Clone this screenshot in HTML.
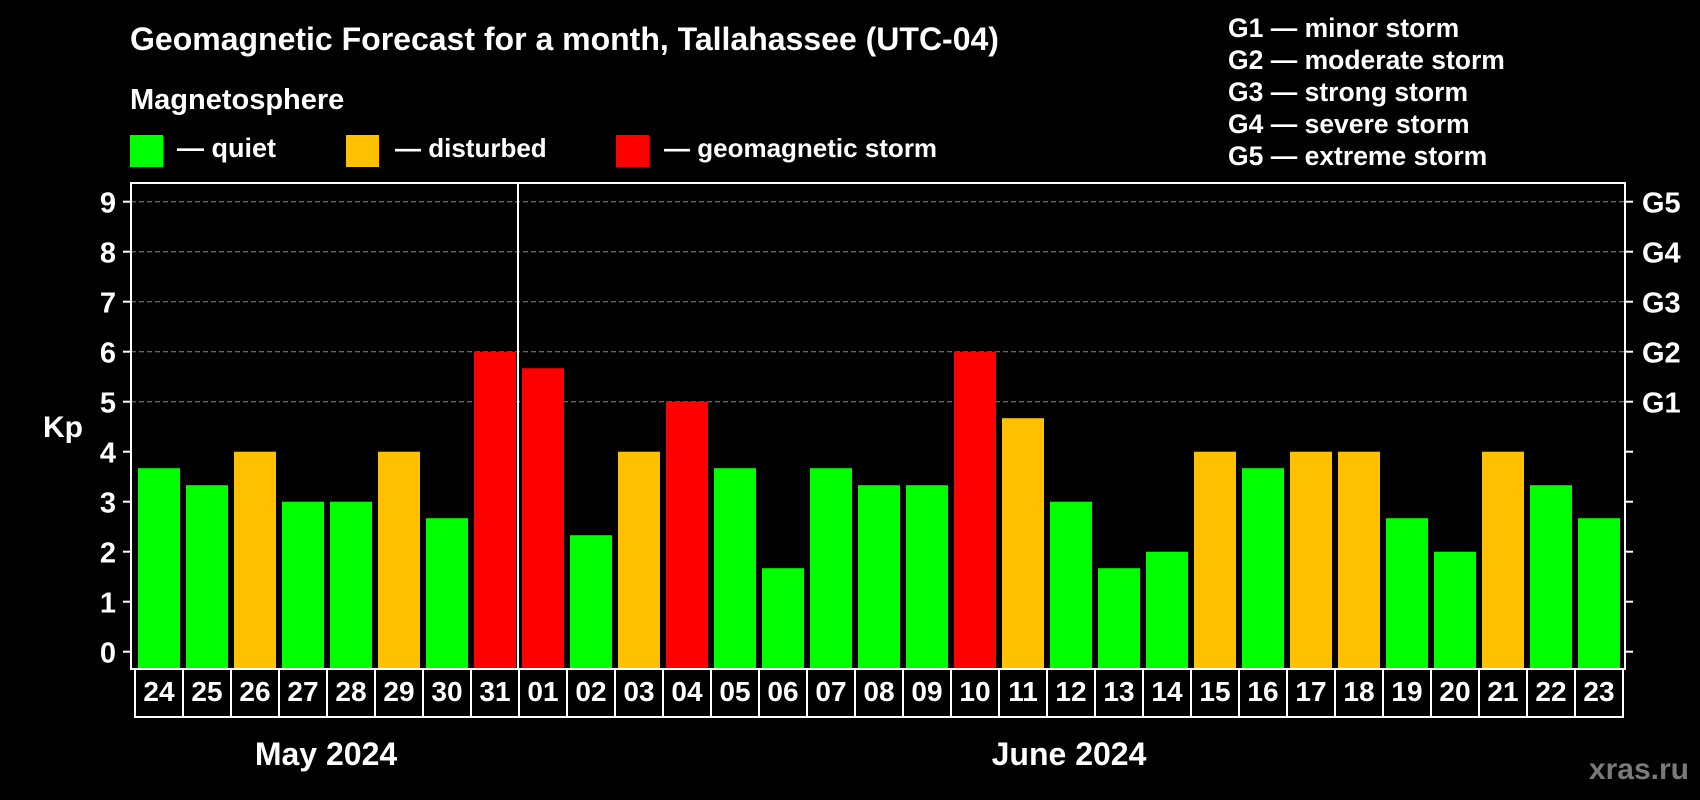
<!DOCTYPE html>
<html><head><meta charset="utf-8"><style>
html,body{margin:0;padding:0;background:#000;}
svg{display:block;}
text{font-family:"Liberation Sans",Arial,sans-serif;font-weight:bold;fill:#fff;}
</style></head><body>
<svg id="chart" width="1700" height="800" viewBox="0 0 1700 800" xmlns="http://www.w3.org/2000/svg">
<rect x="0" y="0" width="1700" height="800" fill="#000"/>
<text x="130" y="50" font-size="32">Geomagnetic Forecast for a month, Tallahassee (UTC-04)</text>
<text x="130" y="109" font-size="29">Magnetosphere</text>
<g>
<rect x="130" y="135" width="33" height="32" fill="#00ff00"/>
<text x="177" y="157" font-size="27">— quiet</text></g>
<g>
<rect x="346" y="135" width="33" height="32" fill="#ffc000"/>
<text x="395" y="157" font-size="26">— disturbed</text></g>
<g>
<rect x="616" y="135" width="33" height="32" fill="#ff0000"/>
<text x="664" y="157" font-size="26">— geomagnetic storm</text></g>
<g>
<text x="1228" y="37" font-size="26.5">G1 — minor storm</text>
<text x="1228" y="69" font-size="26.5">G2 — moderate storm</text>
<text x="1228" y="101" font-size="26.5">G3 — strong storm</text>
<text x="1228" y="133" font-size="26.5">G4 — severe storm</text>
<text x="1228" y="165" font-size="26.5">G5 — extreme storm</text>
</g>
<text x="43" y="437" font-size="30">Kp</text>
<g id="grid"></g>
<g id="bars"></g>
<g id="axes"></g>
<text x="326" y="765" font-size="32" text-anchor="middle">May 2024</text>
<text x="1069" y="765" font-size="32" text-anchor="middle">June 2024</text>
<text x="1689" y="779" font-size="30" text-anchor="end" style="fill:#7a7a7a">xras.ru</text>
</svg>
<script>
const days = ["24","25","26","27","28","29","30","31","01","02","03","04","05","06","07","08","09","10","11","12","13","14","15","16","17","18","19","20","21","22","23"];
const kpValues = [3.67,3.33,4,3,3,4,2.67,6,5.67,2.33,4,5,3.67,1.67,3.67,3.33,3.33,6,4.67,3,1.67,2,4,3.67,4,4,2.67,2,4,3.33,2.67];
const yTicks = [0,1,2,3,4,5,6,7,8,9];
const gLabels = ["G1","G2","G3","G4","G5"];
const gLevels = [5,6,7,8,9];
const monthBreakIndex = 8;

const NS = "http://www.w3.org/2000/svg";
const L = 131, R = 1625, T = 183, B = 669, boxL = 135, step = 48;
function y(v){ return 651.7 - 50 * v; }
function xBand(i){ return boxL + step * i; }
function mk(tag, attrs, parent){ const e = document.createElementNS(NS, tag); for (const k in attrs) e.setAttribute(k, attrs[k]); parent.appendChild(e); return e; }
function color(v){ return v >= 5 ? "#ff0000" : (v >= 4 ? "#ffc000" : "#00ff00"); }

const grid = document.getElementById("grid"), bars = document.getElementById("bars"), axes = document.getElementById("axes");
gLevels.forEach(function(v){
  const g = mk("line", {x1:L, x2:R, y1:y(v), y2:y(v), stroke:"#888", "stroke-width":1, "stroke-dasharray":"5 3"}, grid);
  
  
});
kpValues.forEach(function(v, i){
  const r = mk("rect", {x:xBand(i)+3, y:y(v), width:42, height:668-y(v), fill:color(v)}, bars);
  
  
});
const frame = mk("rect", {x:L, y:T, width:R-L, height:B-T, fill:"none", stroke:"#fff", "stroke-width":2}, axes);


const sep = mk("line", {x1:xBand(monthBreakIndex)-1, x2:xBand(monthBreakIndex)-1, y1:T, y2:B, stroke:"#fff", "stroke-width":2}, axes);


yTicks.forEach(function(v){
  const t = mk("line", {x1:L-8, x2:L, y1:y(v), y2:y(v), stroke:"#fff", "stroke-width":2}, axes);
  
  
  const t2 = mk("line", {x1:R, x2:R+8, y1:y(v), y2:y(v), stroke:"#fff", "stroke-width":2}, axes);
  
  
  const lb = mk("text", {x:116, y:y(v)+11, "font-size":29, "text-anchor":"end"}, axes);
  lb.textContent = String(v);
  
  
});
gLabels.forEach(function(g, i){
  const lb = mk("text", {x:1642, y:y(gLevels[i])+11, "font-size":29}, axes);
  lb.textContent = g;
  
  
});
days.forEach(function(d, i){
  const bx = mk("rect", {x:xBand(i), y:B, width:step, height:717-B, fill:"none", stroke:"#fff", "stroke-width":2}, axes);
  
  
  const lb = mk("text", {x:xBand(i)+step/2, y:701, "font-size":28, "text-anchor":"middle"}, axes);
  lb.textContent = d;
  
  
});
</script>
</body></html>
